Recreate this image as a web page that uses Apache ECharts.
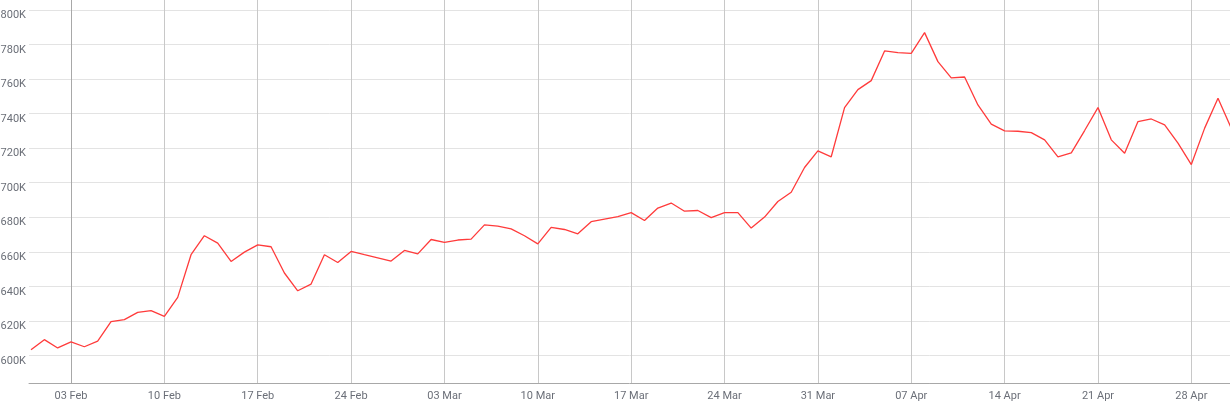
<!DOCTYPE html>
<html>
<head>
<meta charset="utf-8">
<script src="https://cdn.jsdelivr.net/npm/echarts@6/dist/echarts.min.js"></script>
<style>
  html, body { margin: 0; padding: 0; background: #fff; }
  #chart { width: 1230px; height: 404px; }
</style>
</head>
<body>
<div id="chart"></div>
<script>
const dates = [
  '2019-01-31',
  '2019-02-01','2019-02-02','2019-02-03','2019-02-04','2019-02-05','2019-02-06','2019-02-07',
  '2019-02-08','2019-02-09','2019-02-10','2019-02-11','2019-02-12','2019-02-13','2019-02-14',
  '2019-02-15','2019-02-16','2019-02-17','2019-02-18','2019-02-19','2019-02-20','2019-02-21',
  '2019-02-22','2019-02-23','2019-02-24','2019-02-25','2019-02-26','2019-02-27','2019-02-28',
  '2019-03-01','2019-03-02','2019-03-03','2019-03-04','2019-03-05','2019-03-06','2019-03-07',
  '2019-03-08','2019-03-09','2019-03-10','2019-03-11','2019-03-12','2019-03-13','2019-03-14',
  '2019-03-15','2019-03-16','2019-03-17','2019-03-18','2019-03-19','2019-03-20','2019-03-21',
  '2019-03-22','2019-03-23','2019-03-24','2019-03-25','2019-03-26','2019-03-27','2019-03-28',
  '2019-03-29','2019-03-30','2019-03-31',
  '2019-04-01','2019-04-02','2019-04-03','2019-04-04','2019-04-05','2019-04-06','2019-04-07',
  '2019-04-08','2019-04-09','2019-04-10','2019-04-11','2019-04-12','2019-04-13','2019-04-14',
  '2019-04-15','2019-04-16','2019-04-17','2019-04-18','2019-04-19','2019-04-20','2019-04-21',
  '2019-04-22','2019-04-23','2019-04-24','2019-04-25','2019-04-26','2019-04-27','2019-04-28',
  '2019-04-29','2019-04-30','2019-05-01'
];

const valuesK = [
  603.3,
  609.1, 604.3, 607.8, 605.0, 608.3, 619.5, 620.7,
  624.9, 625.9, 622.6, 633.6, 658.3, 669.3, 665.0,
  654.4, 659.8, 664.0, 662.9, 647.7, 637.4, 641.3,
  658.3, 653.8, 660.2, 658.3, 656.5, 654.6, 660.8,
  658.8, 667.1, 665.4, 666.8, 667.3, 675.6, 674.9,
  673.3, 669.3, 664.6, 674.1, 672.9, 670.4, 677.4,
  678.9, 680.4, 682.7, 678.1, 685.3, 688.2, 683.5,
  683.9, 679.8, 682.7, 682.7, 673.7, 680.1, 689.1,
  694.5, 708.8, 718.4,
  715.0, 743.5, 753.9, 759.1, 776.3, 775.3, 774.9,
  786.9, 770.1, 760.7, 761.2, 745.0, 733.9, 730.0,
  729.8, 729.0, 724.8, 715.0, 717.3, 730.2, 743.5,
  724.8, 717.1, 735.4, 736.9, 733.5, 722.9, 710.5,
  731.6, 748.9, 731.5
];

const monthNames = ['Jan','Feb','Mar','Apr','May','Jun','Jul','Aug','Sep','Oct','Nov','Dec'];

// day index relative to 03 Feb 2019 (weekly grid at multiples of 7)
const refDay = Date.UTC(2019, 1, 3);
const DAY = 86400000;
function dayIndex(s) {
  const p = s.split('-').map(Number);
  return Math.round((Date.UTC(p[0], p[1] - 1, p[2]) - refDay) / DAY);
}
function dayLabel(v) {
  const d = new Date(refDay + Math.round(v) * DAY);
  const dd = String(d.getUTCDate()).padStart(2, '0');
  return dd + ' ' + monthNames[d.getUTCMonth()];
}

const seriesData = dates.map((s, i) => [dayIndex(s), valuesK[i] * 1000]);

const chart = echarts.init(document.getElementById('chart'), null, { renderer: 'canvas' });
chart.setOption({
  animation: false,
  backgroundColor: '#ffffff',
  grid: { left: 29, right: 0, top: 0, bottom: 21, containLabel: false, outerBoundsMode: 'none' },
  xAxis: {
    type: 'value',
    min: -3.15,
    max: 86.9,
    minInterval: 7,
    maxInterval: 7,
    axisLine: { show: true, lineStyle: { color: '#a8a8a8', width: 1 } },
    axisTick: { show: false },
    axisLabel: {
      showMinLabel: false,
      showMaxLabel: false,
      margin: 8,
      color: '#6b6f78',
      fontFamily: 'Roboto',
      fontSize: 11,
      formatter: dayLabel
    },
    splitLine: { show: true, showMinLine: false, showMaxLine: false, lineStyle: { color: '#c8c8c8', width: 1 } }
  },
  yAxis: {
    type: 'value',
    min: 584000,
    max: 805800,
    minInterval: 20000,
    maxInterval: 20000,
    axisLine: { show: true, lineStyle: { color: '#a8a8a8', width: 1 } },
    axisTick: { show: false },
    axisLabel: {
      showMinLabel: false,
      showMaxLabel: false,
      margin: 3,
      color: '#6b6f78',
      fontFamily: 'Roboto',
      fontSize: 11,
      verticalAlign: 'top',
      formatter: v => Math.round(v / 1000) + 'K'
    },
    splitLine: { show: true, showMinLine: false, showMaxLine: false, lineStyle: { color: '#e3e3e3', width: 1 } }
  },
  series: [{
    type: 'line',
    data: seriesData,
    showSymbol: false,
    symbol: 'none',
    smooth: false,
    clip: true,
    lineStyle: { color: '#ff3b3b', width: 1.3 }
  }]
});
</script>
</body>
</html>
